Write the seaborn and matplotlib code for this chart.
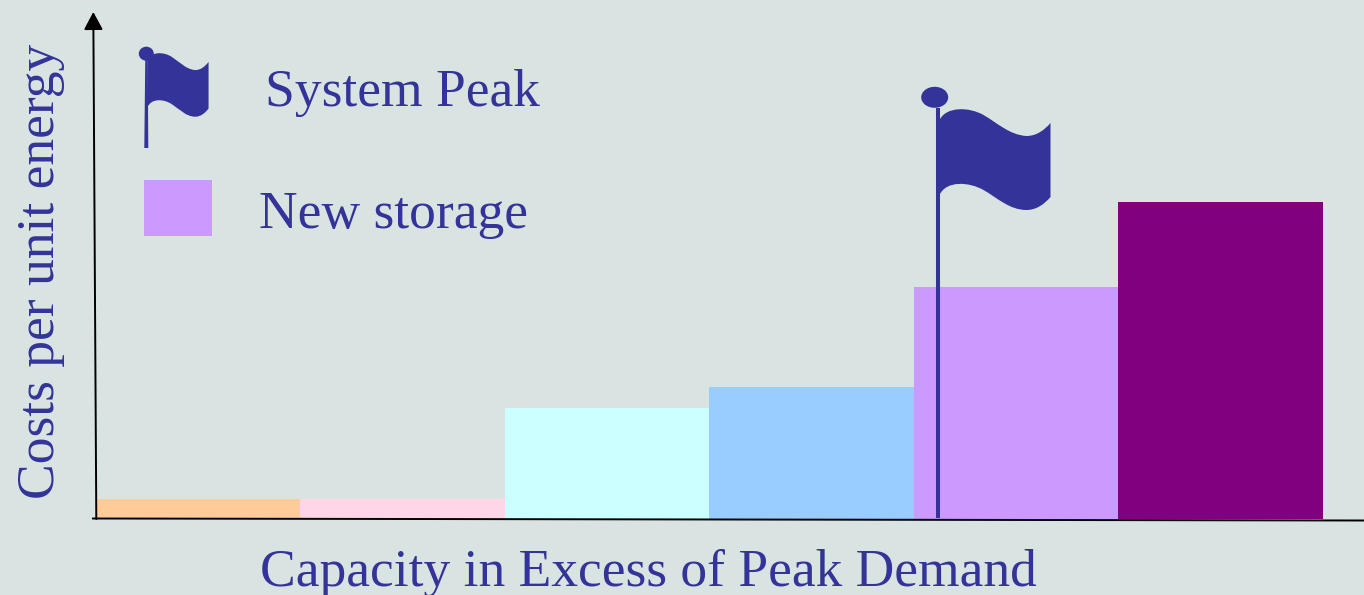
import matplotlib
matplotlib.use('Agg')
import matplotlib.pyplot as plt
from matplotlib.patches import Ellipse, PathPatch, Rectangle
from matplotlib.path import Path
import pandas as pd
import seaborn as sns

# bar heights in pixels above the baseline
categories = ['a', 'b', 'c', 'd', 'e', 'f']
costs = [20, 20, 111, 132, 232, 317]
bar_colors = ['#FFCC99', '#FFD5E8', '#CCFFFF', '#99CCFF', '#CC99FF', '#800080']
ink = '#333399'
bg = '#D9E3E1'
font = 'Liberation Serif'

df = pd.DataFrame({'category': categories, 'cost': costs})

fig = plt.figure(figsize=(13.64, 5.95), dpi=100, facecolor=bg)
W, H = 1364, 595

ax = fig.add_axes([95.4 / W, (595 - 519) / H, (1323 - 95.4) / W, (519 - 20) / H])
ax.set_facecolor('none')
sns.barplot(data=df, x='category', y='cost', hue='category', palette=bar_colors,
            width=1.0, legend=False, ax=ax, saturation=1, linewidth=0)
ax.set_xlim(-0.5, 5.5)
ax.set_ylim(0, 499)
ax.axis('off')

# overlay in figure pixels for the arrows, flags and text
ov = fig.add_axes([0, 0, 1, 1])
ov.set_xlim(0, W)
ov.set_ylim(H, 0)
ov.axis('off')
ov.patch.set_alpha(0)

ov.annotate('', xy=(93.3, 12), xytext=(96.3, 519),
            arrowprops=dict(arrowstyle='-|>,head_length=0.54,head_width=0.29', color='black',
                            lw=1.4, shrinkA=0, shrinkB=0, mutation_scale=20))
ov.plot([93, 1364], [518.5, 520.5], color='black', lw=1.4, zorder=1)


def draw_flag(x0, y0, sx, sy):
    # cloth outline, measured on the large flag with its top left corner as origin
    def pt(u, v):
        return (x0 + u * sx, y0 + v * sy)
    verts = [pt(0, 0), pt(7, -14), pt(30, -13), pt(44, -5), pt(58, 3), pt(70, 15), pt(87, 16),
             pt(97, 16), pt(105, 10), pt(111, 3), pt(111, 77), pt(105, 84), pt(97, 90), pt(87, 90),
             pt(70, 90), pt(58, 78), pt(44, 70), pt(30, 62), pt(7, 60), pt(0, 75), pt(0, 0)]
    codes = [Path.MOVETO] + [Path.CURVE4] * 9 + [Path.LINETO] + [Path.CURVE4] * 9 + [Path.CLOSEPOLY]
    ov.add_patch(PathPatch(Path(verts, codes), facecolor=ink, edgecolor='none', lw=0))


# large flag
ov.plot([937.5, 937.5], [108, 518], color=ink, lw=2.9, solid_capstyle='butt')
ov.add_patch(Ellipse((934.7, 97.3), 27, 21, color=ink, lw=0))
draw_flag(939.5, 120, 1.0, 1.0)

# small legend flag
ov.fill([145.3, 147.7, 148.3, 144.3], [56, 56, 148, 148], color=ink, lw=0)
ov.add_patch(Ellipse((146.3, 53.7), 15, 14, color=ink, lw=0))
draw_flag(147.5, 60, 0.55, 0.63)

ov.add_patch(Rectangle((144, 180), 68, 56, color='#CC99FF', lw=0))

ov.text(265, 93, 'System Peak', family=font, fontsize=38.5, color=ink, va='center', ha='left')
ov.text(259, 215, 'New storage', family=font, fontsize=38.5, color=ink, va='center', ha='left')
ov.text(648.5, 573, 'Capacity in Excess of Peak Demand', family=font, fontsize=38.5, color=ink,
        va='center', ha='center')
ov.text(41, 271, 'Costs per unit energy', family=font, fontsize=38.5, color=ink, rotation=90,
        va='center', ha='center')

plt.savefig('out.png', dpi=100, facecolor=bg)
